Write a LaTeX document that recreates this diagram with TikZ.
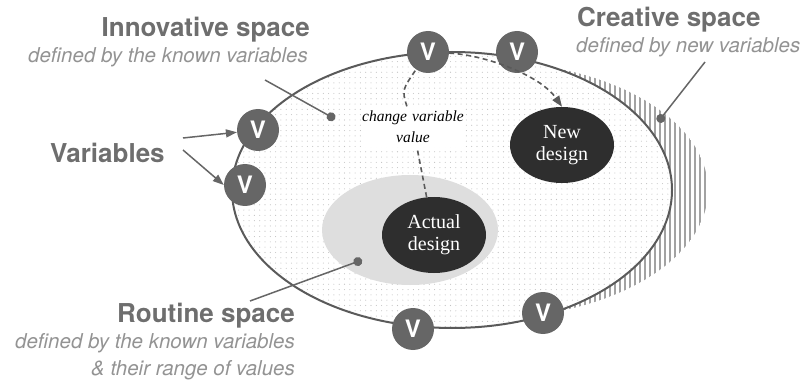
\documentclass[tikz,border=0pt]{standalone}
\usepackage{fontspec}
\setsansfont{TeX Gyre Heros}
\newfontfamily\designfont{Liberation Serif}
\usetikzlibrary{shapes.geometric,arrows.meta,patterns.meta}

\definecolor{titlegray}{HTML}{6E6E6E}
\definecolor{subgray}{HTML}{939393}
\definecolor{vgray}{HTML}{666666}
\definecolor{linegray}{HTML}{5A5A5A}
\definecolor{designfill}{HTML}{2E2E2E}
\definecolor{routinefill}{HTML}{DEDEDE}
\definecolor{dotgray}{HTML}{C2C2C2}
\definecolor{stripegray}{HTML}{A2A2A2}

\begin{document}
\begin{tikzpicture}[x=1pt,y=-1pt,
		title/.style={inner sep=0,text=titlegray,font=\sffamily\bfseries\fontsize{26}{30}\selectfont},
		subtitle/.style={inner sep=0,text=subgray,font=\sffamily\itshape\fontsize{20.5}{27}\selectfont},
		var/.style={circle,fill=vgray,minimum size=42pt,inner sep=0,text=white,font=\sffamily\bfseries\fontsize{24}{24}\selectfont},
		design/.style={ellipse,fill=designfill,minimum width=104pt,minimum height=76pt,inner sep=0,text=white,align=center,font=\designfont\fontsize{20}{22}\selectfont},
		pointer/.style={draw=vgray,line width=1.5pt,-{Circle[length=9pt]}},
		varrow/.style={draw=vgray,line width=1.5pt,-{Triangle[length=11pt,width=8pt]}},
		changeline/.style={draw=linegray,line width=1.6pt,dash pattern=on 5pt off 3.5pt}]
		\useasboundingbox (0,0) rectangle (801,385);
		% spaces
		\fill [pattern={Lines[angle=90,distance=5pt,line width=2.2pt]},pattern color=stripegray] (488,190) ellipse [x radius=220pt, y radius=128pt];
		\fill [white] (452,190) ellipse [x radius=220pt, y radius=138pt];
		\fill [pattern={Dots[distance=5.3pt,radius=0.55pt]},pattern color=dotgray] (452,190) ellipse [x radius=220pt, y radius=138pt];
		\fill [routinefill] (410,230) ellipse [x radius=88pt, y radius=55pt];
		\draw [draw=linegray,line width=2pt] (452,190) ellipse [x radius=220pt, y radius=138pt];
		% variables on the border
		\node [var] (v1) at (258,130) {V};
		\node [var] (v2) at (245,185) {V};
		\node [var] (v3) at (428,52) {V};
		\node [var] (v4) at (517,52) {V};
		\node [var] (v5) at (413,329) {V};
		\node [var] (v6) at (543,313) {V};
		% designs
		\node [design] (actual) at (434,235) {Actual\\design};
		\node [design] (new) at (562,145) {New\\design};
		\node [fill=white,inner xsep=1pt,inner ysep=4.5pt,text width=102pt,align=center,font=\designfont\itshape\fontsize{15.5}{21}\selectfont] (change) at (413,127) {change variable\\value};
		\draw [changeline] (actual) -- (change);
		\draw [changeline] (change) .. controls (402,90) .. (v3);
		\draw [changeline,-{Triangle[length=11pt,width=8pt]}] (v3) .. controls (485,55) and (540,75) .. (new.north);
		% labels
		\node [title,anchor=base east] (innov) at (310,37) {Innovative space};
		\node [subtitle,anchor=base east] (innovsub) at (308,63) {defined by the known variables};
		\node [title,anchor=base west] (creat) at (577,27) {Creative space};
		\node [subtitle,anchor=base west] (creatsub) at (576,53) {defined by new variables};
		\node [title,anchor=base west] (vars) at (50,163) {Variables};
		\node [title,anchor=base east] (rout) at (295,322) {Routine space};
		\node [subtitle,anchor=base east] (routsub1) at (295,348) {defined by the known variables};
		\node [subtitle,anchor=base east] (routsub2) at (295,375) {\& their range of values};
		% pointers
		\coordinate (innovp) at (265,80);
		\coordinate (innovd) at (335,119);
		\coordinate (creatp) at (705,62);
		\coordinate (creatd) at (658,122);
		\coordinate (routp) at (250,301);
		\coordinate (routd) at (362,260);
		\coordinate (varsa) at (183,138);
		\coordinate (varsb) at (183,150);
		\draw [pointer] (innovp) -- (innovd);
		\draw [pointer] (creatp) -- (creatd);
		\draw [pointer] (routp) -- (routd);
		\draw [varrow] (varsa) -- (v1);
		\draw [varrow] (varsb) -- (v2.west);
	\end{tikzpicture}
\end{document}
